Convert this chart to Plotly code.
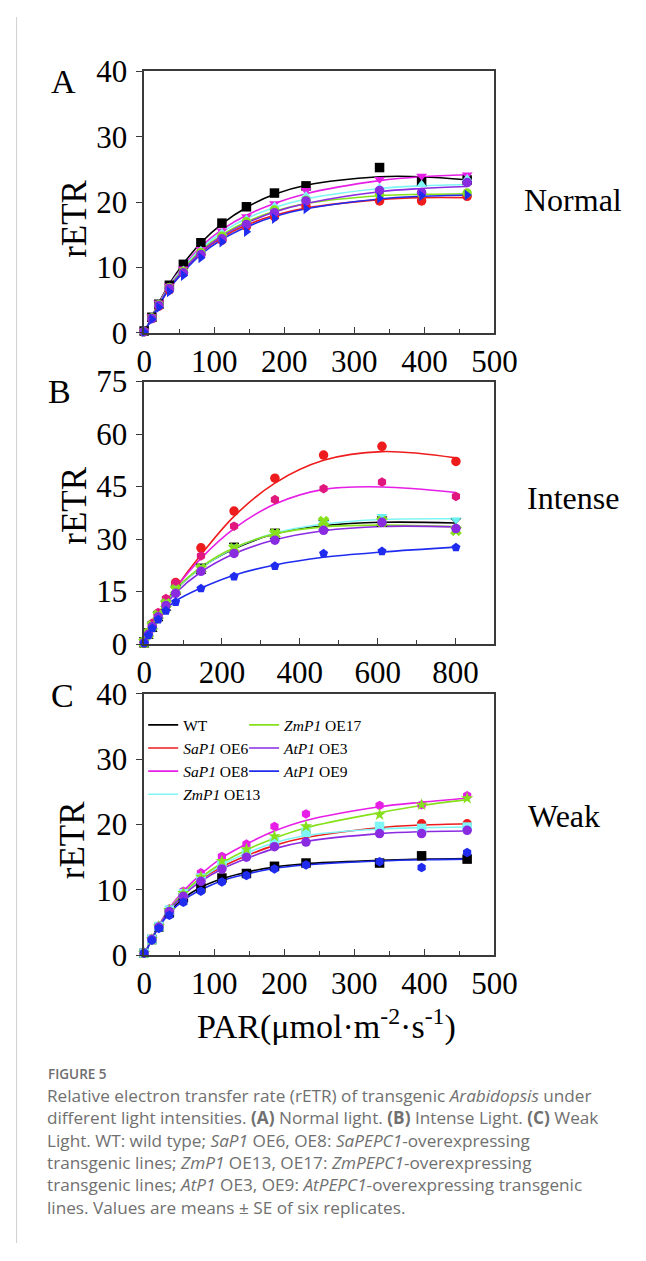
import plotly.graph_objects as go

# ---------------- data ----------------
series = ["WT", "SaP1 OE6", "SaP1 OE8", "ZmP1 OE13", "ZmP1 OE17", "AtP1 OE3", "AtP1 OE9"]
legend_names = ["WT", "<i>SaP1</i> OE6", "<i>SaP1</i> OE8", "<i>ZmP1</i> OE13",
                "<i>ZmP1</i> OE17", "<i>AtP1</i> OE3", "<i>AtP1</i> OE9"]
colors = ["#000000", "#ee1c1c", "#e61ee6", "#7ff5f5", "#86e01c", "#8a2be2", "#1f2cf0"]
marker_colors_B = ["#000000", "#ee1c1c", "#e0187e", "#66f0f0", "#86e01c", "#8a2be2", "#1f2cf0"]

par_AC = [0, 11, 21, 36, 56, 81, 111, 146, 186, 231, 336, 396, 461]
par_B = [0, 11, 21, 36, 56, 81, 146, 231, 336, 461, 611, 801]

# Panel A (normal light) - measured points
A_pts = {
    "WT":        [0.3, 2.4, 4.4, 7.3, 10.5, 13.8, 16.8, 19.3, 21.4, 22.5, 25.3, 23.1, 23.4],
    "SaP1 OE6":  [0.2, 2.2, 4.1, 6.6, 9.2, 12.0, 14.2, 16.3, 17.8, 19.4, 20.2, 20.2, 20.9],
    "SaP1 OE8":  [0.3, 2.5, 4.6, 7.2, 9.8, 12.8, 15.6, 17.8, 19.8, 21.8, 23.5, 24.0, 24.2],
    "ZmP1 OE13": [0.3, 2.4, 4.4, 7.0, 9.6, 12.6, 15.3, 17.4, 19.4, 21.0, 22.2, 22.7, 23.6],
    "ZmP1 OE17": [0.2, 2.3, 4.3, 6.9, 9.4, 12.3, 14.8, 17.0, 18.8, 20.3, 21.2, 21.3, 21.4],
    "AtP1 OE3":  [0.2, 2.2, 4.2, 6.8, 9.2, 12.0, 14.4, 16.6, 18.4, 20.2, 21.8, 21.5, 23.0],
    "AtP1 OE9":  [0.2, 2.1, 3.9, 6.3, 8.8, 11.5, 13.9, 15.5, 17.5, 19.0, 20.6, 21.0, 21.1],
}
# Panel A fitted curves (at the same PAR values)
A_fit = {
    "WT":        [0, 2.5, 4.6, 7.5, 10.6, 13.8, 16.7, 19.2, 21.2, 22.6, 23.9, 23.9, 23.4],
    "SaP1 OE6":  [0, 2.3, 4.2, 6.8, 9.5, 12.3, 14.6, 16.5, 18.0, 19.1, 20.4, 20.7, 20.7],
    "SaP1 OE8":  [0, 2.4, 4.5, 7.3, 10.2, 13.2, 15.8, 18.0, 19.8, 21.3, 23.3, 23.9, 24.2],
    "ZmP1 OE13": [0, 2.4, 4.4, 7.2, 10.0, 12.9, 15.4, 17.5, 19.2, 20.5, 22.1, 22.5, 22.7],
    "ZmP1 OE17": [0, 2.4, 4.4, 7.1, 9.8, 12.6, 15.0, 17.0, 18.6, 19.8, 21.0, 21.2, 21.3],
    "AtP1 OE3":  [0, 2.3, 4.3, 7.0, 9.6, 12.4, 14.8, 16.8, 18.5, 19.8, 21.6, 22.1, 22.4],
    "AtP1 OE9":  [0, 2.3, 4.2, 6.8, 9.3, 12.0, 14.3, 16.2, 17.8, 19.0, 20.5, 20.9, 21.1],
}

# Panel B (intense light)
B_pts = {
    "WT":        [0.5, 3.0, 5.0, 8.0, 11.0, 15.5, 21.5, 27.5, 31.5, 34.0, 35.0, 34.5],
    "SaP1 OE6":  [0.5, 3.2, 5.5, 8.5, 12.0, 17.6, 27.5, 38.0, 47.4, 54.0, 56.5, 52.2],
    "SaP1 OE8":  [0.5, 3.5, 6.0, 9.0, 13.0, 17.4, 25.2, 33.7, 41.3, 44.4, 46.3, 42.2],
    "ZmP1 OE13": [0.5, 3.2, 5.5, 8.5, 12.0, 16.0, 22.0, 27.8, 31.8, 34.5, 36.5, 35.5],
    "ZmP1 OE17": [0.5, 3.0, 5.2, 8.2, 11.5, 15.5, 21.5, 27.3, 31.5, 35.0, 35.0, 32.5],
    "AtP1 OE3":  [0.4, 2.8, 5.0, 7.8, 11.0, 14.5, 20.8, 25.9, 29.7, 32.5, 34.8, 33.0],
    "AtP1 OE9":  [0.3, 2.5, 4.5, 7.0, 9.5, 12.0, 15.9, 19.3, 22.3, 25.9, 26.5, 27.6],
}
B_fit = {
    "WT":        [0, 3.0, 5.3, 8.5, 11.8, 15.5, 21.8, 27.2, 31.5, 33.8, 34.8, 34.6],
    "SaP1 OE6":  [0, 2.8, 5.2, 8.3, 11.8, 16.0, 25.5, 36.5, 46.0, 52.5, 55.0, 53.2],
    "SaP1 OE8":  [0, 2.9, 5.4, 8.5, 12.0, 16.0, 24.5, 33.0, 40.0, 44.2, 44.9, 43.3],
    "ZmP1 OE13": [0, 3.0, 5.3, 8.5, 11.8, 15.5, 21.8, 27.4, 31.7, 34.3, 35.6, 35.8],
    "ZmP1 OE17": [0, 3.0, 5.4, 8.6, 12.0, 15.7, 22.0, 27.5, 31.5, 33.5, 34.0, 33.5],
    "AtP1 OE3":  [0, 2.8, 5.0, 8.0, 11.2, 14.6, 20.6, 25.8, 29.8, 32.4, 33.6, 33.5],
    "AtP1 OE9":  [0, 2.8, 4.9, 7.5, 10.0, 12.3, 16.0, 19.7, 22.6, 24.8, 26.3, 27.7],
}

# Panel C (weak light)
C_pts = {
    "WT":        [0.3, 2.4, 4.3, 6.5, 8.8, 10.3, 11.8, 12.5, 13.6, 14.1, 14.1, 15.2, 14.7],
    "SaP1 OE6":  [0.3, 2.4, 4.3, 6.8, 9.3, 11.5, 13.5, 15.3, 16.8, 18.8, 19.4, 20.1, 20.1],
    "SaP1 OE8":  [0.3, 2.5, 4.5, 7.1, 9.8, 12.6, 15.1, 17.0, 19.7, 21.6, 22.9, 23.0, 24.4],
    "ZmP1 OE13": [0.3, 2.4, 4.4, 6.9, 9.4, 11.8, 13.8, 15.6, 17.3, 18.8, 19.7, 19.4, 19.6],
    "ZmP1 OE17": [0.3, 2.4, 4.4, 6.9, 9.5, 12.0, 14.4, 16.2, 18.2, 19.7, 21.5, 23.0, 24.0],
    "AtP1 OE3":  [0.3, 2.4, 4.3, 6.7, 9.0, 11.3, 13.2, 15.0, 16.6, 17.3, 18.6, 18.6, 19.1],
    "AtP1 OE9":  [0.3, 2.3, 4.1, 6.1, 8.1, 9.8, 11.2, 12.2, 13.2, 13.8, 14.3, 13.4, 15.7],
}
C_fit = {
    "WT":        [0, 2.5, 4.4, 6.6, 8.7, 10.4, 11.7, 12.7, 13.5, 14.0, 14.5, 14.7, 14.8],
    "SaP1 OE6":  [0, 2.5, 4.5, 7.0, 9.4, 11.6, 13.5, 15.2, 16.8, 18.0, 19.5, 19.9, 20.1],
    "SaP1 OE8":  [0, 2.6, 4.6, 7.2, 9.8, 12.4, 14.9, 17.0, 19.0, 20.6, 22.7, 23.4, 24.0],
    "ZmP1 OE13": [0, 2.5, 4.5, 7.0, 9.4, 11.7, 13.8, 15.6, 17.2, 18.3, 19.3, 19.5, 19.6],
    "ZmP1 OE17": [0, 2.5, 4.5, 7.0, 9.5, 11.9, 14.1, 16.1, 17.9, 19.5, 21.8, 22.9, 23.8],
    "AtP1 OE3":  [0, 2.5, 4.4, 6.9, 9.2, 11.3, 13.2, 14.8, 16.3, 17.4, 18.6, 18.9, 19.0],
    "AtP1 OE9":  [0, 2.4, 4.3, 6.4, 8.4, 10.0, 11.4, 12.4, 13.3, 13.8, 14.4, 14.6, 14.7],
}

symbols_A = ["square", "circle", "triangle-down", "triangle-up", "circle", "circle", "triangle-right"]
symbols_B = ["hourglass", "circle", "hexagon", "triangle-down", "x", "circle", "pentagon"]
symbols_C = ["square", "circle", "hexagon", "square", "star", "circle", "hexagon"]

panel_labels = ["A", "B", "C"]
condition_labels = ["Normal", "Intense", "Weak"]
y_ticks_A = [0, 10, 20, 30, 40]
y_ticks_B = [0, 15, 30, 45, 60, 75]
y_ticks_C = [0, 10, 20, 30, 40]
x_title = "PAR(μmol·m<sup>-2</sup>·s<sup>-1</sup>)"
y_title = "rETR"

caption_head = "FIGURE 5"
caption_lines = [
    "Relative electron transfer rate (rETR) of transgenic <i>Arabidopsis</i> under",
    "different light intensities. <b>(A)</b> Normal light. <b>(B)</b> Intense Light. <b>(C)</b> Weak",
    "Light. WT: wild type; <i>SaP1</i> OE6, OE8: <i>SaPEPC1</i>-overexpressing",
    "transgenic lines; <i>ZmP1</i> OE13, OE17: <i>ZmPEPC1</i>-overexpressing",
    "transgenic lines; <i>AtP1</i> OE3, OE9: <i>AtPEPC1</i>-overexpressing transgenic",
    "lines. Values are means ± SE of six replicates.",
]

# ---------------- layout helpers ----------------
W, H = 646, 1261
def px(x):
    return x / W
def py(y):
    return 1 - y / H

SERIF = "Liberation Serif"
plot_left, plot_right = 143, 511
panel_tops = [56, 375, 696]
panel_bottoms = [325, 645, 965]

fig = go.Figure()

panels = [
    (par_AC, A_pts, A_fit, symbols_A, colors, "x", "y"),
    (par_B, B_pts, B_fit, symbols_B, marker_colors_B, "x2", "y2"),
    (par_AC, C_pts, C_fit, symbols_C, colors, "x3", "y3"),
]

for pi, (xs, pts, fits, syms, mcols, xa, ya) in enumerate(panels):
    for si, s in enumerate(series):
        show_leg = (pi == 2)
        fig.add_trace(go.Scatter(
            x=xs, y=fits[s], mode="lines",
            line=dict(color=colors[si], width=1.6, shape="spline", smoothing=1.0),
            xaxis=xa, yaxis=ya, name=legend_names[si], showlegend=show_leg,
            legend=("legend" if si < 4 else "legend2"), cliponaxis=False, hoverinfo="skip"))
    for si, s in enumerate(series):
        fig.add_trace(go.Scatter(
            x=xs, y=pts[s], mode="markers",
            marker=dict(symbol=syms[si], color=mcols[si], size=9.5,
                        line=dict(width=1 if syms[si] in ("x", "hourglass") else 0, color=mcols[si])),
            xaxis=xa, yaxis=ya, showlegend=False, cliponaxis=False, name=s))

axis_common = dict(showline=True, linecolor="#3a3a3a", linewidth=1.5, mirror=True,
                   showgrid=False, zeroline=False,
                   tickfont=dict(family=SERIF, size=31, color="#000"))

xdom = [px(plot_left), px(plot_right)]
for i, (xa, ya) in enumerate([("xaxis", "yaxis"), ("xaxis2", "yaxis2"), ("xaxis3", "yaxis3")]):
    ydom = [py(panel_bottoms[i]), py(panel_tops[i])]
    if i == 1:
        xr, dt, mdt = [0, 900], 200, 100
        yt = y_ticks_B
    else:
        xr, dt, mdt = [0, 500], 100, 50
        yt = y_ticks_A if i == 0 else y_ticks_C
    anchor_y = "y" if i == 0 else f"y{i+1}"
    anchor_x = "x" if i == 0 else f"x{i+1}"
    fig.layout[xa] = dict(axis_common, domain=xdom, range=xr, dtick=dt, tick0=0,
                          ticks="inside", ticklen=6, tickwidth=1.2, tickcolor="#3a3a3a",
                          minor=dict(dtick=mdt, ticks="inside", ticklen=4, tickcolor="#3a3a3a"),
                          anchor=anchor_y)
    fig.layout[ya] = dict(axis_common, domain=ydom, range=[yt[0], yt[-1]], tickvals=yt,
                          ticks="outside", ticklen=6, tickwidth=1.2, tickcolor="#3a3a3a",
                          ticklabelstandoff=3, anchor=anchor_x)

annotations = []
letter_pos = [(58, 66), (54, 385), (57, 698)]
ylab_pos = [(70, 208), (69, 503), (68, 847)]
cond_pos = [(594, 188), (593, 495), (584, 822)]
for i in range(3):
    annotations.append(dict(x=px(letter_pos[i][0]), y=py(letter_pos[i][1]), xref="paper", yref="paper",
                            text=panel_labels[i], showarrow=False,
                            font=dict(family=SERIF, size=34, color="#000"),
                            xanchor="center", yanchor="middle"))
    annotations.append(dict(x=px(ylab_pos[i][0]), y=py(ylab_pos[i][1]), xref="paper", yref="paper",
                            text=y_title, showarrow=False, textangle=-90,
                            font=dict(family=SERIF, size=35, color="#000"),
                            xanchor="center", yanchor="middle"))
    annotations.append(dict(x=px(cond_pos[i][0]), y=py(cond_pos[i][1]), xref="paper", yref="paper",
                            text=condition_labels[i], showarrow=False,
                            font=dict(family=SERIF, size=32, color="#000"),
                            xanchor="center", yanchor="middle"))

annotations.append(dict(x=px(335), y=py(1036), xref="paper", yref="paper", text=x_title,
                        showarrow=False, font=dict(family=SERIF, size=34, color="#000"),
                        xanchor="center", yanchor="middle", borderpad=0))

annotations.append(dict(x=px(40), y=py(1087), xref="paper", yref="paper", text=caption_head,
                        showarrow=False, font=dict(family="Open Sans", size=13.5, color="#6e6e6e", weight=600),
                        xanchor="left", yanchor="middle"))
cap_fs = 17.2
n_lines = len(caption_lines)
cap_mid = 1111 + (n_lines - 1) * cap_fs * 1.3 / 2
annotations.append(dict(x=px(40), y=py(cap_mid), xref="paper", yref="paper",
                        text="<br>".join(caption_lines), align="left",
                        showarrow=False, font=dict(family="Open Sans", size=cap_fs, color="#707070"),
                        xanchor="left", yanchor="middle", borderpad=0))

fig.update_layout(
    width=W, height=H, margin=dict(l=0, r=0, t=0, b=0),
    paper_bgcolor="white", plot_bgcolor="white",
    annotations=annotations,
    shapes=[dict(type="line", xref="paper", yref="paper", x0=px(9), x1=px(9), y0=0, y1=1,
                 line=dict(color="#d0d0d0", width=1))],
    legend=dict(x=px(142), y=py(711), xanchor="left", yanchor="top", bgcolor="rgba(0,0,0,0)",
                font=dict(family=SERIF, size=15.5, color="#000"), tracegroupgap=0, itemwidth=30),
    legend2=dict(x=px(248), y=py(711), xanchor="left", yanchor="top", bgcolor="rgba(0,0,0,0)",
                 font=dict(family=SERIF, size=15.5, color="#000"), tracegroupgap=0, itemwidth=30),
    showlegend=True,
)

fig.write_html("out.html", config={"displayModeBar": False},
               post_script="document.body.style.margin='0px';")
